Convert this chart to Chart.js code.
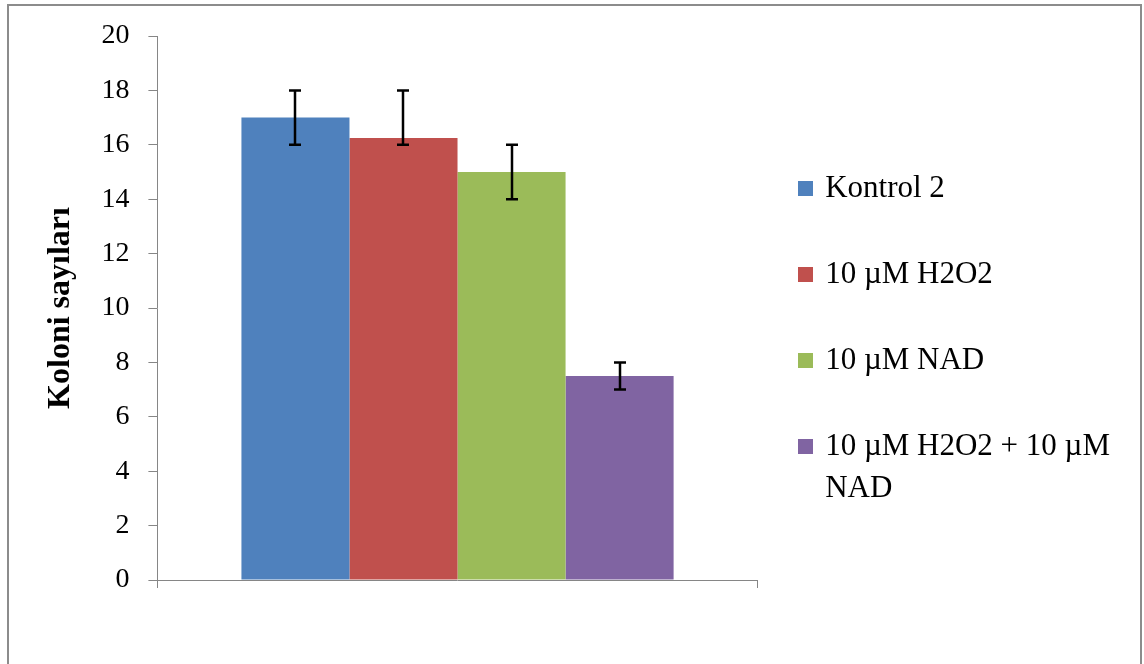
<!DOCTYPE html>
<html>
<head>
<meta charset="utf-8">
<script src="https://cdn.jsdelivr.net/npm/chart.js@4.4.1/dist/chart.umd.min.js"></script>
<style>
  body { margin: 0; background: #fff; }
  #wrap { width: 1144px; height: 664px; }
</style>
</head>
<body>
<div id="wrap"><canvas id="grafico" width="1144" height="664"></canvas></div>
<script>
// dados
const categories = [''];
const seriesNames = ['Kontrol 2', '10 µM H2O2', '10 µM NAD', '10 µM H2O2 + 10 µM NAD'];
const legendLines = [['Kontrol 2'], ['10 µM H2O2'], ['10 µM NAD'], ['10 µM H2O2 + 10 µM', 'NAD']];
const values = [17, 16.25, 15, 7.5];
const errLow = [16, 16, 14, 7];
const errHigh = [18, 18, 16, 8];
const colors = ['#4F81BD', '#C0504D', '#9BBB59', '#8064A2'];
const yMin = 0, yMax = 20, yStep = 2;

const serif = "'Liberation Serif', 'Times New Roman', serif";
const axisGray = '#868686';

// quadradinhos da legenda (mais perto do texto que o padrão)
function quadrado(cor) {
  const c = document.createElement('canvas');
  c.width = 15; c.height = 15;
  const g = c.getContext('2d');
  g.fillStyle = cor;
  g.fillRect(0, 0, 15, 15);
  return c;
}
const legendBoxes = colors.map(quadrado);

// moldura externa
const frame = {
  id: 'frame',
  beforeDraw(chart) {
    const ctx = chart.ctx;
    ctx.save();
    ctx.fillStyle = '#fff';
    ctx.fillRect(0, 0, chart.width, chart.height);
    ctx.strokeStyle = '#8c8c8c';
    ctx.lineWidth = 2;
    ctx.beginPath();
    ctx.moveTo(8, chart.height);
    ctx.lineTo(8, 5);
    ctx.lineTo(1141, 5);
    ctx.lineTo(1141, chart.height);
    ctx.stroke();
    ctx.restore();
  }
};

// barras de erro
const errorBars = {
  id: 'errorBars',
  afterDatasetsDraw(chart) {
    const ctx = chart.ctx;
    const y = chart.scales.y;
    ctx.save();
    ctx.strokeStyle = '#000';
    ctx.lineWidth = 2.5;
    chart.data.datasets.forEach((ds, i) => {
      const bar = chart.getDatasetMeta(i).data[0];
      if (!bar) return;
      const x = Math.round(bar.x);
      const top = y.getPixelForValue(errHigh[i]);
      const bot = y.getPixelForValue(errLow[i]);
      ctx.beginPath();
      ctx.moveTo(x, top); ctx.lineTo(x, bot);
      ctx.moveTo(x - 6, top); ctx.lineTo(x + 6, top);
      ctx.moveTo(x - 6, bot); ctx.lineTo(x + 6, bot);
      ctx.stroke();
    });
    ctx.restore();
  }
};

const ctx = document.getElementById('grafico').getContext('2d');
new Chart(ctx, {
  type: 'bar',
  data: {
    labels: categories,
    datasets: seriesNames.map((nome, i) => ({
      label: nome,
      data: [values[i]],
      backgroundColor: colors[i],
      borderWidth: 0,
      categoryPercentage: 0.72,
      barPercentage: 1
    }))
  },
  options: {
    responsive: false,
    animation: false,
    layout: { padding: { left: 40, top: 36, right: 24, bottom: 76 } },
    plugins: {
      tooltip: { enabled: false },
      legend: {
        position: 'right',
        align: 'center',
        maxWidth: 420,
        title: { display: true, text: '', padding: 0, font: { size: 64, lineHeight: 1 } },
        labels: {
          color: '#000',
          usePointStyle: true,
          pointStyleWidth: 8,
          boxHeight: 15,
          padding: 44,
          font: { family: serif, size: 31, lineHeight: 1.355 },
          generateLabels(chart) {
            return chart.data.datasets.map((ds, i) => ({
              text: legendLines[i],
              fillStyle: colors[i],
              strokeStyle: colors[i],
              pointStyle: legendBoxes[i],
              fontColor: '#000',
              lineWidth: 0,
              hidden: false,
              datasetIndex: i
            }));
          }
        }
      }
    },
    scales: {
      x: {
        grid: { drawOnChartArea: false, drawTicks: true, tickLength: 8, color: axisGray },
        border: { color: axisGray, width: 1 },
        ticks: { display: false }
      },
      y: {
        min: yMin,
        max: yMax,
        grid: { drawOnChartArea: false, drawTicks: true, tickLength: 9, color: axisGray },
        border: { color: axisGray, width: 1 },
        ticks: {
          stepSize: yStep,
          padding: 19,
          color: '#000',
          font: { family: serif, size: 28 }
        },
        title: {
          display: true,
          text: 'Koloni sayıları',
          color: '#000',
          padding: { top: 2, bottom: 2 },
          font: { family: serif, size: 32, weight: 'bold', lineHeight: 1.2 }
        }
      }
    }
  },
  plugins: [frame, errorBars]
});
</script>
</body>
</html>
